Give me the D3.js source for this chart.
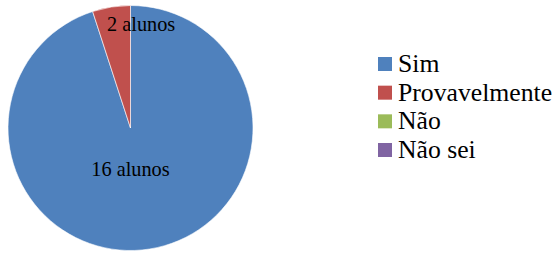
<!DOCTYPE html>
<html>
<head>
<meta charset="utf-8">
<script src="https://cdn.jsdelivr.net/npm/d3@7"></script>
<style>
    body { margin: 0; background: #fff; }
</style>
</head>
<body>
<svg id="chart"></svg>
<script>
var categories = ['Sim', 'Provavelmente', 'Não', 'Não sei'];
var values = [95, 5, 0, 0];
var labels = ['16 alunos', '2 alunos', '', ''];
var colors = ['#4f81bd', '#c0504d', '#9bbb59', '#8064a2'];

var WIDTH = 559,
    HEIGHT = 253,
    FONT = '"Times New Roman", "Liberation Serif", Times, serif';

var PIE = {
    CX: 130.5,
    CY: 128,
    R: 122.5
};

var svg = d3.select('#chart')
    .attr('width', WIDTH)
    .attr('height', HEIGHT);

var data = categories.map(function (c, i) {
    return { name: c, value: values[i], label: labels[i] };
});

var colorScale = d3.scaleOrdinal()
    .domain(categories)
    .range(colors);

var pie = d3.pie()
    .sort(null)
    .value(function (d) { return d.value; })(data);

var arcPath = d3.arc()
    .innerRadius(0)
    .outerRadius(PIE.R);

var g = svg.append('g')
    .attr('transform', 'translate(' + PIE.CX + ',' + PIE.CY + ')');

g.selectAll('path.slice')
    .data(pie.filter(function (d) { return d.data.value > 0; }))
    .enter()
    .append('path')
    .attr('class', 'slice')
    .attr('d', arcPath)
    .style('fill', function (d) { return colorScale(d.data.name); })
    .style('stroke', '#fff')
    .style('stroke-width', 0.6);

// data labels: big slice near the middle, small slice near the rim
g.selectAll('text.label')
    .data(pie.filter(function (d) { return d.data.value > 0; }))
    .enter()
    .append('text')
    .attr('class', 'label')
    .attr('font-family', FONT)
    .attr('font-size', 20.3)
    .attr('fill', '#000')
    .attr('dy', '0.35em')
    .each(function (d) {
        var big = (d.endAngle - d.startAngle) > Math.PI;
        var rr = big ? PIE.R * 0.34 : PIE.R * 0.86;
        var c = d3.arc().innerRadius(rr).outerRadius(rr).centroid(d);
        d3.select(this)
            .attr('x', big ? 0 : c[0] - 7)
            .attr('y', c[1])
            .attr('text-anchor', big ? 'middle' : 'start')
            .text(d.data.label);
    });

// legend
var legendY = d3.scalePoint()
    .domain(categories)
    .range([64, 150]);

var legend = svg.append('g')
    .attr('transform', 'translate(378,0)');

var items = legend.selectAll('g.item')
    .data(categories)
    .enter()
    .append('g')
    .attr('class', 'item')
    .attr('transform', function (d) { return 'translate(0,' + legendY(d) + ')'; });

items.append('rect')
    .attr('x', 0)
    .attr('y', -7)
    .attr('width', 14)
    .attr('height', 14)
    .attr('fill', function (d) { return colorScale(d); });

items.append('text')
    .attr('x', 20)
    .attr('y', 8)
    .attr('font-family', FONT)
    .attr('font-size', 25.7)
    .attr('fill', '#000')
    .text(function (d) { return d; });
</script>
</body>
</html>
